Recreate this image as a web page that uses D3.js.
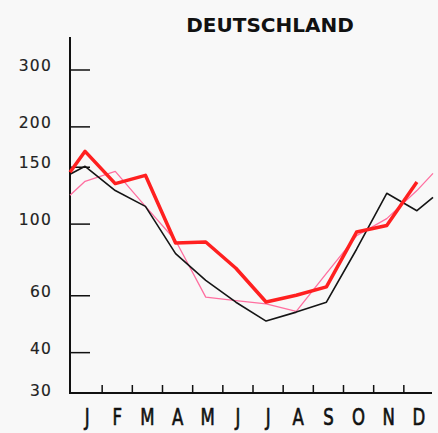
<!DOCTYPE html>
<html><head><meta charset="utf-8">
<script src="https://cdn.jsdelivr.net/npm/d3@7"></script>
<style>
html,body{margin:0;padding:0;background:#f8f8f8;}
svg{display:block;}
</style></head>
<body>
<svg id="c" width="438" height="433"></svg>
<script>
const title = "DEUTSCHLAND";
const months = ["J","F","M","A","M","J","J","A","S","O","N","D"];
const yTicks = [40,60,100,150,200,300];
const yLabels = [30,40,60,100,150,200,300];
// monthly values + wrap-around values at left and right edge
const blackVals = [151,127,113.5,81,67,57.3,50.1,53.4,57.3,83.6,124.6,110];
const blackEdge = [142.6,121];
const redVals = [168,133.5,141.6,87.4,88,73,57.4,60.2,63.9,94.5,99,135];
const redEdge = [144.7,null];
const pinkVals = [135.7,145.7,113.5,89,59.4,58,56.6,53.7,70.4,92,104,127];
const pinkEdge = [122.8,143.6];

const svg = d3.select("#c");
const axisX = 70, axisBottom = 393, axisTop = 37, axisRight = 432;

const x = d3.scaleBand().domain(d3.range(months.length)).range([71,433]).padding(0);
const y = d3.scaleLog().domain([30,300]).range([393,70]);

// title
svg.append("text").attr("x",270).attr("y",32).attr("text-anchor","middle")
  .attr("font-family","DejaVu Sans").attr("font-weight","bold").attr("font-size",20)
  .attr("fill","#111").text(title);

// y axis
svg.append("line").attr("x1",axisX).attr("x2",axisX).attr("y1",axisTop).attr("y2",axisBottom+1)
  .attr("stroke","#111").attr("stroke-width",2);
svg.selectAll(".yt").data(yTicks).join("line")
  .attr("x1",axisX).attr("x2",axisX+20).attr("y1",d=>y(d)).attr("y2",d=>y(d))
  .attr("stroke","#111").attr("stroke-width",1.5);
svg.selectAll(".yl").data(yLabels).join("text")
  .attr("x",52).attr("y",d=>y(d)-(d===30?2.5:4.5)).attr("dy","0.36em")
  .attr("text-anchor","end").attr("font-family","DejaVu Sans").attr("font-size",15.5)
  .attr("letter-spacing","1.2").attr("fill","#222")
  .attr("stroke","#222").attr("stroke-width",0.15).text(d=>d);

// x axis
svg.append("line").attr("x1",axisX-1).attr("x2",axisRight).attr("y1",axisBottom).attr("y2",axisBottom)
  .attr("stroke","#111").attr("stroke-width",2);
const bounds = d3.range(1,months.length).map(i=>x(i));
svg.selectAll(".xt").data(bounds).join("line")
  .attr("x1",d=>d+1).attr("x2",d=>d+1).attr("y1",axisBottom).attr("y2",axisBottom-8)
  .attr("stroke","#111").attr("stroke-width",1.5);
svg.selectAll(".xl").data(months).join("text")
  .attr("transform",(d,i)=>`translate(${x(i)+x.bandwidth()/2+1},425) scale(0.72,1)`)
  .attr("text-anchor","middle").attr("font-family","DejaVu Sans")
  .attr("font-size",23).attr("fill","#111").attr("stroke","#111").attr("stroke-width",0.7)
  .text(d=>d);

function pts(vals, edge){
  const p = [];
  if(edge[0]!=null) p.push([axisX, y(edge[0])]);
  vals.forEach((v,i)=>p.push([x(i)+x.bandwidth()/2-1, y(v)]));
  if(edge[1]!=null) p.push([x.range()[1], y(edge[1])]);
  return p;
}
const line = d3.line();
svg.append("path").attr("d",line(pts(pinkVals,pinkEdge))).attr("fill","none")
  .attr("stroke","#ff6fa0").attr("stroke-width",1.3).attr("stroke-linejoin","round");
svg.append("path").attr("d",line(pts(blackVals,blackEdge))).attr("fill","none")
  .attr("stroke","#151515").attr("stroke-width",1.6).attr("stroke-linejoin","round");
svg.append("path").attr("d",line(pts(redVals,redEdge))).attr("fill","none")
  .attr("stroke","#ff2020").attr("stroke-width",3.5).attr("stroke-linejoin","round");
</script>
</body></html>
